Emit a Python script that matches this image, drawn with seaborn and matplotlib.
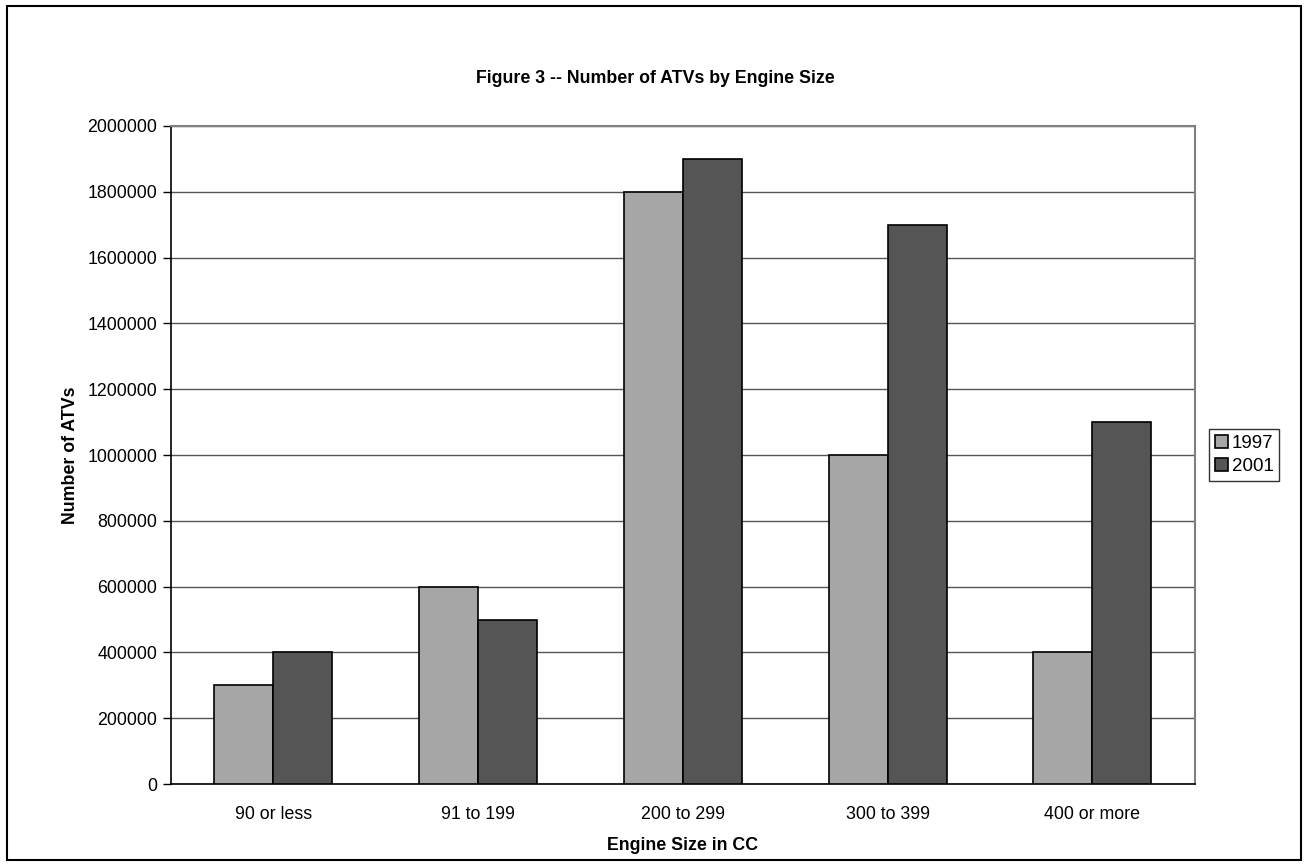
import numpy as np
import pandas as pd
import matplotlib
matplotlib.use("Agg")
import matplotlib.pyplot as plt
from matplotlib.patches import Rectangle
import seaborn as sns

# Chart data
categories = ["90 or less", "91 to 199", "200 to 299", "300 to 399", "400 or more"]
years = ["1997", "2001"]
atvs_1997 = [300000, 600000, 1800000, 1000000, 400000]
atvs_2001 = [400000, 500000, 1900000, 1700000, 1100000]
y_ticks = [0, 200000, 400000, 600000, 800000, 1000000, 1200000, 1400000, 1600000, 1800000, 2000000]

df = pd.DataFrame({
    "engine": categories * 2,
    "year": [years[0]] * len(categories) + [years[1]] * len(categories),
    "count": atvs_1997 + atvs_2001,
})

sns.set_theme(style="white")
plt.rcParams["font.family"] = ["Liberation Sans", "DejaVu Sans"]
plt.rcParams["text.color"] = "black"
plt.rcParams["axes.labelcolor"] = "black"
plt.rcParams["xtick.color"] = "black"
plt.rcParams["ytick.color"] = "black"

FS = 12.8

fig = plt.figure(figsize=(13.1, 8.67), dpi=100)
ax = fig.add_axes([0.1305, 0.0957, 0.912 - 0.1305, 0.8547 - 0.0957])

palette = {"1997": "#a6a6a6", "2001": "#555555"}
sns.barplot(data=df, x="engine", y="count", hue="year", order=categories,
            hue_order=years, palette=palette, width=0.576, saturation=1,
            edgecolor="black", linewidth=1.2, ax=ax, zorder=3)

ax.set_ylim(0, 2000000)
ax.set_xlim(-0.5, len(categories) - 0.5)
ax.set_yticks(y_ticks)
ax.set_yticklabels([str(v) for v in y_ticks], fontsize=FS)
ax.yaxis.grid(True, color="#555555", linewidth=1.0, zorder=0)
ax.set_axisbelow(True)

# ticks between categories
ax.set_xticks(np.arange(-0.5, len(categories), 1.0), minor=True)
ax.tick_params(axis="x", which="major", length=0, labelsize=FS, pad=16)
ax.tick_params(axis="x", which="minor", length=6, width=1, color="black", direction="out")
ax.tick_params(axis="y", length=6, width=1, color="black", direction="out", left=True, pad=4)

for side in ["left", "bottom"]:
    ax.spines[side].set_color("black")
    ax.spines[side].set_linewidth(1.2)
for side in ["top", "right"]:
    ax.spines[side].set_color("#808080")
    ax.spines[side].set_linewidth(1.5)

ax.set_xlabel("Engine Size in CC", fontsize=FS, fontweight="bold", labelpad=10)
ax.set_ylabel("Number of ATVs", fontsize=FS, fontweight="bold", labelpad=6)

fig.text(0.5, 0.91, "Figure 3 -- Number of ATVs by Engine Size", ha="center", va="center",
         fontsize=FS, fontweight="bold")

leg = ax.legend(loc="center left", bbox_to_anchor=(1.014, 0.5), fontsize=13.5, frameon=True,
                fancybox=False, edgecolor="black", handlelength=0.7, handleheight=0.7,
                handletextpad=0.2, borderpad=0.3, labelspacing=0.35, borderaxespad=0.0)
leg.get_frame().set_linewidth(1.0)

fig.patches.append(Rectangle((0.005, 0.008), 0.988, 0.985, transform=fig.transFigure,
                             fill=False, edgecolor="black", linewidth=1.5))

fig.savefig("out.png", dpi=100)
